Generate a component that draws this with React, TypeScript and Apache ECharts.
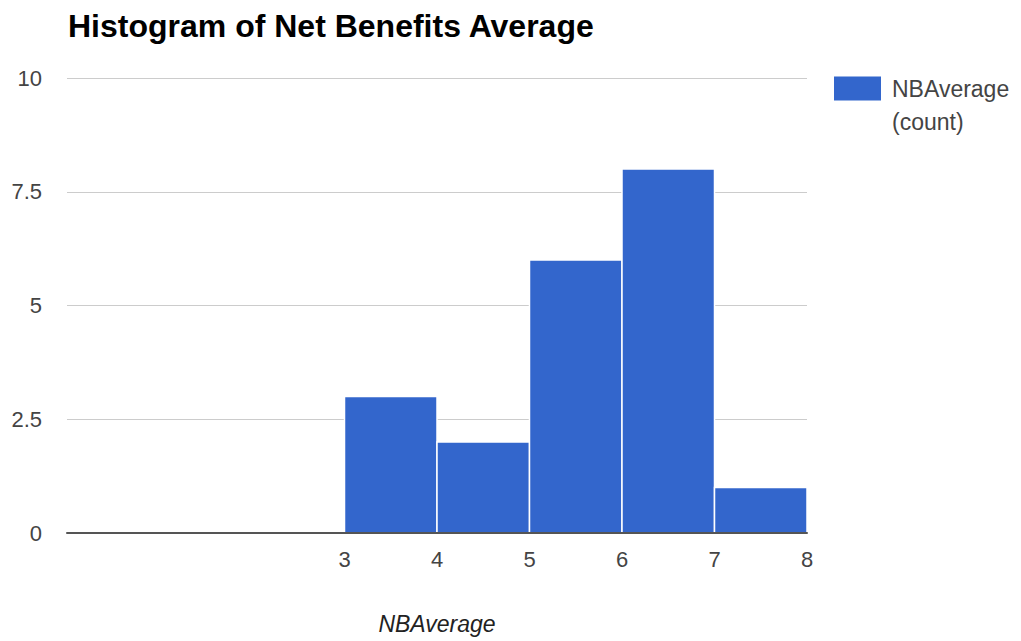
import React, { useEffect, useRef } from "react";
import * as echarts from "echarts";

// Histogram bins of NBAverage: [start, end) and the count in each bin
const binStarts = [3, 4, 5, 6, 7];
const binEnds = [4, 5, 6, 7, 8];
const binCounts = [3, 2, 6, 8, 1];
const yTicks = [0, 2.5, 5, 7.5, 10];
const xLabelValues = [3, 4, 5, 6, 7, 8];
const seriesName = "NBAverage (count)";

const FONT = "Arial, 'Liberation Sans', Helvetica, sans-serif";

export default function App() {
  const ref = useRef<HTMLDivElement>(null);

  useEffect(() => {
    if (!ref.current) return;
    const chart = echarts.init(ref.current, undefined, { renderer: "svg" });
    const data = binStarts.map((s, i) => [s, binEnds[i], binCounts[i]]);

    chart.setOption({
      animation: false,
      backgroundColor: "#ffffff",
      title: {
        text: "Histogram of Net Benefits Average",
        left: 55,
        top: -3,
        textStyle: { fontFamily: FONT, fontSize: 32, fontWeight: "bold", color: "#000" },
      },
      legend: {
        left: 821,
        top: 31,
        orient: "vertical",
        itemWidth: 47,
        itemHeight: 24,
        icon: "rect",
        data: [{ name: seriesName, itemStyle: { color: "#3366cc" } }],
        formatter: () => "{s| }\n{a|NBAverage}\n{a|(count)}",
        textStyle: {
          fontFamily: FONT,
          fontSize: 23,
          color: "#444",
          rich: {
            s: { fontFamily: FONT, fontSize: 23, lineHeight: 33 },
            a: { fontFamily: FONT, fontSize: 23, lineHeight: 33, color: "#444", padding: [0, 0, 0, 6] },
          },
        },
      },
      grid: { left: 59, right: 206, top: 70, bottom: 108, outerBoundsMode: "none", containLabel: false },
      xAxis: {
        type: "value",
        min: 0,
        max: 8,
        interval: 1,
        z: 5,
        name: "NBAverage",
        nameLocation: "middle",
        nameGap: 79,
        nameTextStyle: { fontFamily: FONT, fontSize: 23, fontStyle: "italic", color: "#222", verticalAlign: "top" },
        axisLine: { show: true, onZero: true, lineStyle: { color: "#555", width: 2 } },
        axisTick: { show: false },
        splitLine: { show: false },
        axisLabel: {
          fontFamily: FONT,
          fontSize: 22,
          color: "#444",
          margin: 15,
          formatter: (v: number) => (xLabelValues.includes(v) ? String(v) : ""),
        },
      },
      yAxis: {
        type: "value",
        min: yTicks[0],
        max: yTicks[yTicks.length - 1],
        interval: 2.5,
        axisLine: { show: false },
        axisTick: { show: false },
        splitLine: { lineStyle: { color: "#cccccc", width: 1 } },
        axisLabel: { fontFamily: FONT, fontSize: 22, color: "#444", margin: 25 },
      },
      series: [
        {
          name: seriesName,
          type: "custom",
          data,
          encode: { x: [0, 1], y: 2 },
          renderItem: (params: any, api: any) => {
            const p0 = api.coord([api.value(0), api.value(2)]);
            const p1 = api.coord([api.value(1), 0]);
            return {
              type: "rect",
              shape: { x: p0[0], y: p0[1], width: p1[0] - p0[0], height: p1[1] - p0[1] },
              style: { fill: "#3366cc", stroke: "#ffffff", lineWidth: 1.5 },
            };
          },
        },
      ],
    });

    return () => chart.dispose();
  }, []);

  return <div ref={ref} style={{ width: 1005, height: 633 }} />;
}
